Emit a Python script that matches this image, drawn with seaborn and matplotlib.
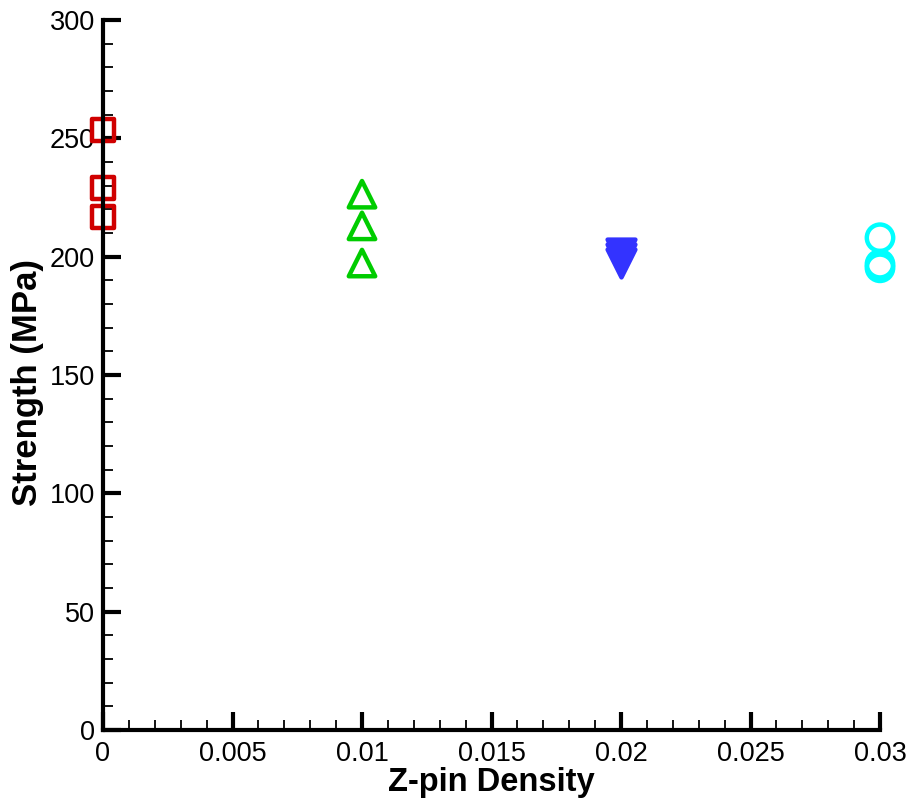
import matplotlib
matplotlib.use("Agg")
import matplotlib.pyplot as plt
import seaborn as sns
import pandas as pd
from matplotlib.ticker import MultipleLocator

sns.set_theme(style="white")
plt.rcParams['font.family'] = ['Liberation Sans', 'DejaVu Sans']

density_0 = [0.0, 0.0, 0.0]
strength_0 = [253.5, 229.0, 216.8]
density_1 = [0.01, 0.01, 0.01]
strength_1 = [226.4, 213.0, 197.3]
density_2 = [0.02, 0.02, 0.02]
strength_2 = [201.5, 199.5, 197.5]
density_3 = [0.03, 0.03, 0.03]
strength_3 = [208.0, 196.8, 195.3]

x_ticks = [0, 0.005, 0.01, 0.015, 0.02, 0.025, 0.03]
x_labels = ["0", "0.005", "0.01", "0.015", "0.02", "0.025", "0.03"]
y_ticks = [0, 50, 100, 150, 200, 250, 300]

fig = plt.figure(figsize=(9.14, 8.05), dpi=100)
ax = fig.add_axes([103/914, 75/805, 777/914, 710/805])

series = [
    (density_0, strength_0, 's', '#D00000', False, 16),
    (density_1, strength_1, '^', '#00CC00', False, 19),
    (density_2, strength_2, 'v', '#3333FF', True, 20),
    (density_3, strength_3, 'o', '#00FFFF', False, 19),
]
for xs, ys, m, c, filled, ms in series:
    df = pd.DataFrame({"x": xs, "y": ys})
    sns.scatterplot(data=df, x="x", y="y", ax=ax, marker=m, s=ms**2,
                    facecolor=c if filled else 'none', edgecolor=c,
                    linewidth=3.2, clip_on=False, zorder=2, legend=False)

ax.set_xlim(0, 0.03)
ax.set_ylim(0, 300)
ax.set_xticks(x_ticks)
ax.set_xticklabels(x_labels)
ax.set_yticks(y_ticks)
ax.xaxis.set_minor_locator(MultipleLocator(0.001))
ax.yaxis.set_minor_locator(MultipleLocator(10))

for s in ['top', 'right']:
    ax.spines[s].set_visible(False)
for s in ['left', 'bottom']:
    ax.spines[s].set_linewidth(3)
    ax.spines[s].set_color('black')
    ax.spines[s].set_zorder(5)

ax.tick_params(which='major', direction='in', length=13, width=3,
               labelsize=19.5, color='black', labelcolor='black',
               left=True, bottom=True)
ax.tick_params(axis='y', which='major', pad=6)
ax.tick_params(axis='x', which='major', pad=8)
ax.tick_params(which='minor', direction='in', length=7, width=1.3,
               color='black', left=True, bottom=True)

ax.set_xlabel("Z-pin Density", fontsize=23.5, fontweight='bold', color='black')
ax.set_ylabel("Strength (MPa)", fontsize=25, fontweight='bold', color='black')
ax.xaxis.set_label_coords(0.5, -0.052)
ax.yaxis.set_label_coords(-0.076, 0.489)

fig.savefig("out.png", dpi=100)
